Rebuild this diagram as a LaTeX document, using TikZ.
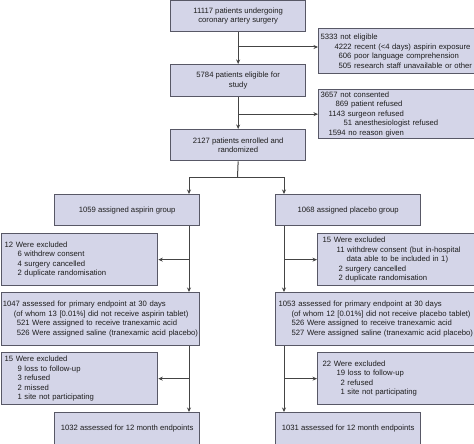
\documentclass[tikz,border=0pt]{standalone}
\usepackage{fontspec}
\setmainfont{Liberation Sans}
\usetikzlibrary{arrows.meta}
\definecolor{boxfill}{HTML}{D4D5E8}
\definecolor{boxline}{HTML}{585866}
\definecolor{conn}{HTML}{444444}
\definecolor{txt}{HTML}{1E1E1E}
\newcommand\fline[2][0pt]{\mbox{\hspace*{#1}#2}}
\begin{document}
\begin{tikzpicture}[x=1pt,y=-1pt,
  box/.style={draw=boxline, fill=boxfill, line width=1.3pt, rectangle, anchor=north west,
    inner ysep=0pt, text=txt, font=\fontsize{7.7}{9.5}\selectfont},
  cbox/.style={box, align=center, minimum width=#1},
  lbox/.style={box, align=left},
  arr/.style={draw=conn, line width=1pt, -{Stealth[length=4.5pt,width=4pt]}},
  ln/.style={draw=conn, line width=1pt}]
\useasboundingbox (0,0) rectangle (474,444);

% centre column
\node[cbox=135pt, minimum height=31pt] (t) at (170,0) {11117 patients undergoing\\coronary artery surgery};
\node[cbox=135pt, minimum height=32pt] (e) at (170,64) {5784 patients eligible for\\study};
\node[cbox=135pt, minimum height=31pt] (r) at (170,129) {2127 patients enrolled and\\randomized};

% right side exclusions at top
\node[lbox, minimum width=172pt, minimum height=45pt, inner xsep=2pt, text width=168pt] (ne) at (318,28)
 {\fline{5333 not eligible}\\
  \fline[14pt]{4222 recent (<4 days) aspirin exposure}\\
  \fline[18pt]{606 poor language comprehension}\\
  \fline[18pt]{505 research staff unavailable or other}};
\node[lbox, minimum width=172pt, minimum height=49pt, inner xsep=2pt, text width=168pt] (nc) at (318,89)
 {\fline{3657 not consented}\\
  \fline[15pt]{869 patient refused}\\
  \fline[8pt]{1143 surgeon refused}\\
  \fline[23pt]{51 anesthesiologist refused}\\
  \fline[8pt]{1594 no reason given}};

% groups
\node[cbox=145pt, minimum height=31pt] (a) at (54,194) {1059 assigned aspirin group};
\node[cbox=145pt, minimum height=31pt] (p) at (275,194) {1068 assigned placebo group};

\node[lbox, minimum width=156.4pt, minimum height=52pt, inner xsep=3.4pt, text width=149.6pt] (ea) at (0.6,233)
 {\fline{12 Were excluded}\\
  \fline[13pt]{6 withdrew consent}\\
  \fline[13pt]{4 surgery cancelled}\\
  \fline[13pt]{2 duplicate randomisation}};
\node[lbox, minimum width=173pt, minimum height=52pt, inner xsep=5pt, text width=163pt] (ep) at (317,233)
 {\fline{15 Were excluded}\\
  \fline[14pt]{11 withdrew consent (but in-hospital}\\
  \fline[24pt]{data able to be included in 1)}\\
  \fline[16pt]{2 surgery cancelled}\\
  \fline[16pt]{2 duplicate randomisation}};

\node[lbox, minimum width=198.4pt, minimum height=53pt, inner xsep=1.5pt, text width=195.4pt] (aa) at (0.6,292)
 {\fline{1047 assessed for primary endpoint at 30 days}\\
  \fline[11pt]{(of whom 13 [0.01\%] did not receive aspirin tablet)}\\
  \fline[14pt]{521 Were assigned to receive tranexamic acid}\\
  \fline[14pt]{526 Were assigned saline (tranexamic acid placebo)}};
\node[lbox, minimum width=215pt, minimum height=53pt, inner xsep=3pt, text width=209pt] (ap) at (275,292)
 {\fline{1053 assessed for primary endpoint at 30 days}\\
  \fline[13pt]{(of whom 12 [0.01\%] did not receive placebo tablet)}\\
  \fline[13pt]{526 Were assigned to receive tranexamic acid}\\
  \fline[13pt]{527 Were assigned saline (tranexamic acid placebo)}};

\node[lbox, minimum width=156.4pt, minimum height=52pt, inner xsep=3.4pt, text width=149.6pt] (fa) at (0.6,352)
 {\fline{15 Were excluded}\\
  \fline[13pt]{9 loss to follow-up}\\
  \fline[13pt]{3 refused}\\
  \fline[13pt]{2 missed}\\
  \fline[13pt]{1 site not participating}};
\node[lbox, minimum width=173pt, minimum height=52pt, inner xsep=5pt, text width=163pt] (fp) at (317,352)
 {\fline{22 Were excluded}\\
  \fline[14pt]{19 loss to follow-up}\\
  \fline[18pt]{2 refused}\\
  \fline[18pt]{1 site not participating}};

\node[cbox=145pt, minimum height=31.5pt] (la) at (54,412) {1032 assessed for 12 month endpoints};
\node[cbox=145pt, minimum height=31.5pt] (lp) at (275,412) {1031 assessed for 12 month endpoints};

% connectors
\coordinate (lt) at (189,0);
\coordinate (rt) at (284,0);
\coordinate (b1) at (237.5,47);
\coordinate (sp) at (237.5,177);

\draw[arr] (t.south) -- (e.north);
\draw[arr] (b1) -- (b1 -| ne.west);
\draw[arr] (e.south) -- (r.north);
\draw[arr] (e.south |- nc.west) -- (nc.west);
\draw[ln] (r.south) -- (sp);
\draw[arr] (sp) -| (a.north -| lt);
\draw[arr] (sp) -| (p.north -| rt);

\draw[arr] (a.south -| lt) -- (aa.north -| lt);
\draw[arr] (ea.east -| lt) -- (ea.east);
\draw[arr] (aa.south -| lt) -- (la.north -| lt);
\draw[arr] (fa.east -| lt) -- (fa.east);

\draw[arr] (p.south -| rt) -- (ap.north -| rt);
\draw[arr] (ep.west -| rt) -- (ep.west);
\draw[arr] (ap.south -| rt) -- (lp.north -| rt);
\draw[arr] (fp.west -| rt) -- (fp.west);
\end{tikzpicture}
\end{document}
